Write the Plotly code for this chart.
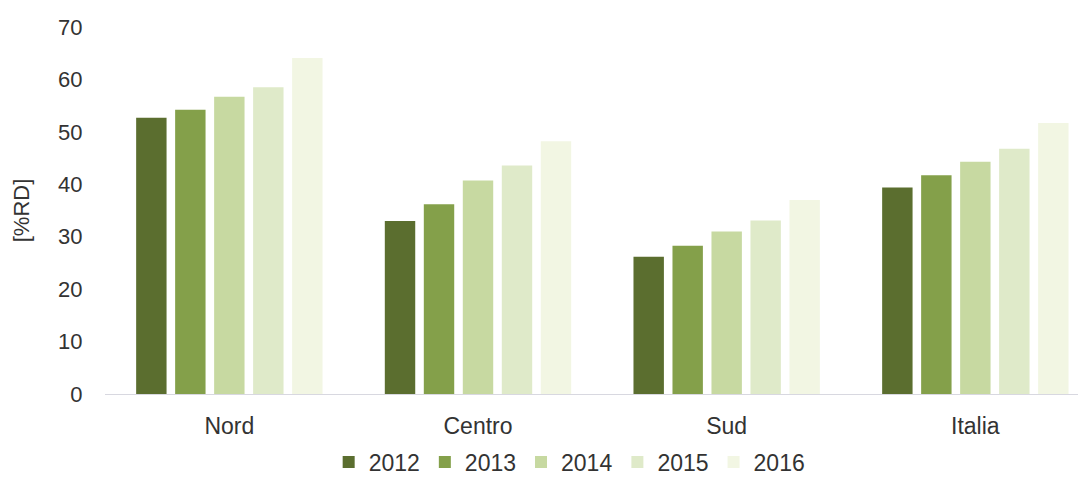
import plotly.graph_objects as go

categories = ["Nord", "Centro", "Sud", "Italia"]
years = ["2012", "2013", "2014", "2015", "2016"]
values = {
    "2012": [52.7, 33.0, 26.2, 39.4],
    "2013": [54.2, 36.2, 28.3, 41.7],
    "2014": [56.7, 40.7, 31.0, 44.3],
    "2015": [58.5, 43.6, 33.1, 46.8],
    "2016": [64.1, 48.2, 37.0, 51.7],
}
y_ticks = [0, 10, 20, 30, 40, 50, 60, 70]

COLORS = {
    "2012": "#5b6e2f",
    "2013": "#84a04a",
    "2014": "#c7d9a1",
    "2015": "#dfeac9",
    "2016": "#f2f6e3",
}

fig = go.Figure()
for yr in years:
    fig.add_trace(go.Bar(
        x=categories, y=values[yr], name=yr,
        marker=dict(color=COLORS[yr], line=dict(width=0)),
    ))

# page body adds an 8px margin, so the figure is sized to fit the window
fig.update_layout(
    barmode="group",
    bargap=0.216,
    bargroupgap=0.22,
    width=1078, height=476,
    margin=dict(l=97, r=0, t=19, b=90),
    paper_bgcolor="white",
    plot_bgcolor="white",
    font=dict(family="Liberation Sans, Arial", size=22, color="#333333"),
    showlegend=True,
    legend=dict(
        orientation="h", x=0.228, xanchor="left", y=-0.244, yanchor="bottom",
        font=dict(size=23, color="#333333"), itemwidth=30,
        traceorder="normal",
    ),
    xaxis=dict(
        range=[-0.5, 3.445], showline=True, linecolor="#d8d8e0", linewidth=1,
        ticks="outside", ticklen=11, tickcolor="rgba(0,0,0,0)", showgrid=False,
        tickfont=dict(size=23),
    ),
    yaxis=dict(
        range=[0, 70], tickvals=y_ticks, showgrid=False, zeroline=False,
        showline=False, ticks="outside", ticklen=17, tickcolor="rgba(0,0,0,0)",
        title=dict(text="[%RD]", standoff=22, font=dict(size=22)),
    ),
)

fig.write_html("out.html")
